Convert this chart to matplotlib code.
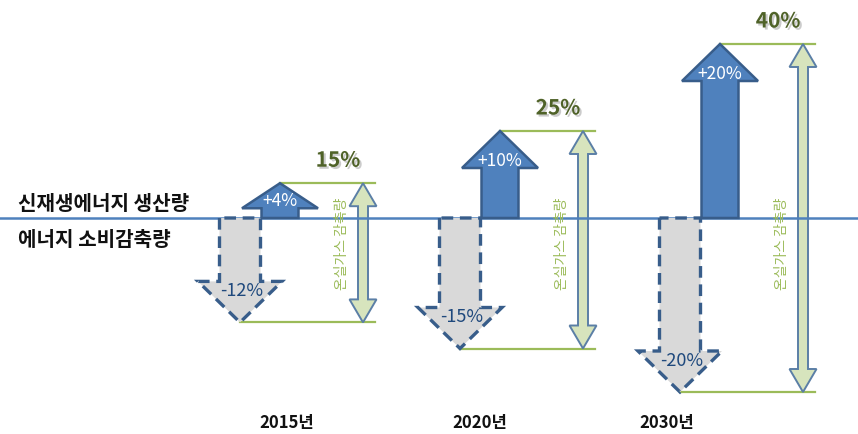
import matplotlib
matplotlib.use('Agg')
import matplotlib.pyplot as plt
import matplotlib.patheffects as pe
from matplotlib.patches import Polygon

plt.rcParams['font.family'] = ['Noto Sans CJK KR', 'DejaVu Sans']

# values (%)
years = ['2015년', '2020년', '2030년']
renewable_gain = [4, 10, 20]     # 신재생에너지 생산량
demand_cut = [12, 15, 20]        # 에너지 소비감축량
ghg_total = [15, 25, 40]         # 온실가스 감축량

row_labels = ['신재생에너지 생산량', '에너지 소비감축량']
span_label = '온실가스 감축량'

# layout (pixels)
W, H = 858, 435
PX = 8.7          # pixels per percent
BASE = 219        # pixel row of the zero line
year_x = [287, 480, 667]

BLUE = '#4F81BD'
BLUE_EDGE = '#385D8A'
NAVY = '#1F497D'
GREY = '#D9D9D9'
GREEN = '#9BBB59'
PALE_GREEN = '#D7E4BD'
OLIVE = '#4F6228'


def px(v):
    return v / PX


def ypix(row):
    # pixel row -> data y
    return (BASE - row) / PX


fig = plt.figure(figsize=(W / 100, H / 100), dpi=100)
ax = fig.add_axes([0, 0, 1, 1])
ax.set_xlim(0, W)
ax.set_ylim(-(H - BASE) / PX, BASE / PX)
ax.axis('off')

ax.axhline(0, color=BLUE, lw=1.8, zorder=3)

ax.text(18, ypix(204), row_labels[0], fontsize=14.5, fontweight='bold',
        ha='left', va='center', color='#111111')
ax.text(18, ypix(240), row_labels[1], fontsize=14.5, fontweight='bold',
        ha='left', va='center', color='#111111')

for i, year in enumerate(years):
    xd = 240 + 220 * i      # down arrow centre
    xu = xd + 40            # up arrow centre
    xt = xd + 123           # total arrow centre
    up = renewable_gain[i]
    dn = -demand_cut[i]

    # green guide lines
    ax.plot([xu, xt + 12], [up, up], color=GREEN, lw=1.6, zorder=1)
    ax.plot([xd, xt + 12], [dn, dn], color=GREEN, lw=1.6, zorder=1)

    # total (double headed) arrow
    hl = px(23)
    dbl = [(xt - 5, dn + hl), (xt - 13.5, dn + hl), (xt, dn), (xt + 13.5, dn + hl),
           (xt + 5, dn + hl), (xt + 5, up - hl), (xt + 13.5, up - hl), (xt, up),
           (xt - 13.5, up - hl), (xt - 5, up - hl)]
    ax.add_patch(Polygon(dbl, closed=True, fc=PALE_GREEN, ec='#5B7FA6', lw=1.4, zorder=2))

    # up arrow
    hu = min(px(37), 0.72 * up)
    upa = [(xu - 18.5, 0), (xu - 18.5, up - hu), (xu - 38, up - hu), (xu, up),
           (xu + 38, up - hu), (xu + 18.5, up - hu), (xu + 18.5, 0)]
    ax.add_patch(Polygon(upa, closed=True, fc=BLUE, ec=BLUE_EDGE, lw=1.8, zorder=4))
    ax.text(xu, up - hu + px(8), f'+{renewable_gain[i]}%', color='white',
            fontsize=12.5, ha='center', va='center', zorder=5)

    # down arrow
    hd = px(41)
    dna = [(xd - 20.5, 0), (xd - 20.5, dn + hd), (xd - 42, dn + hd), (xd, dn),
           (xd + 42, dn + hd), (xd + 20.5, dn + hd), (xd + 20.5, 0)]
    ax.add_patch(Polygon(dna, closed=True, fc=GREY, ec=BLUE_EDGE, lw=2.4,
                         linestyle=(0, (3.5, 2)), zorder=4))
    ax.text(xd + 2, dn + hd - px(9), f'-{demand_cut[i]}%', color=NAVY,
            fontsize=13, ha='center', va='center', zorder=5)

    # total label and vertical caption
    ax.text(xt - 25, up + px(23), f'{ghg_total[i]}%', color=OLIVE, fontsize=15,
            fontweight='bold', ha='center', va='center', zorder=5,
            path_effects=[pe.withSimplePatchShadow(offset=(1.5, -1.5),
                                                   shadow_rgbFace='#999999', alpha=0.5)])
    ax.text(xt - 21, ypix(244), span_label, color=GREEN, fontsize=10,
            rotation=90, ha='center', va='center', zorder=5)

    ax.text(year_x[i], ypix(423), year, fontsize=12, fontweight='bold',
            ha='center', va='center', color='#111111')

fig.savefig('out.png', dpi=100)
